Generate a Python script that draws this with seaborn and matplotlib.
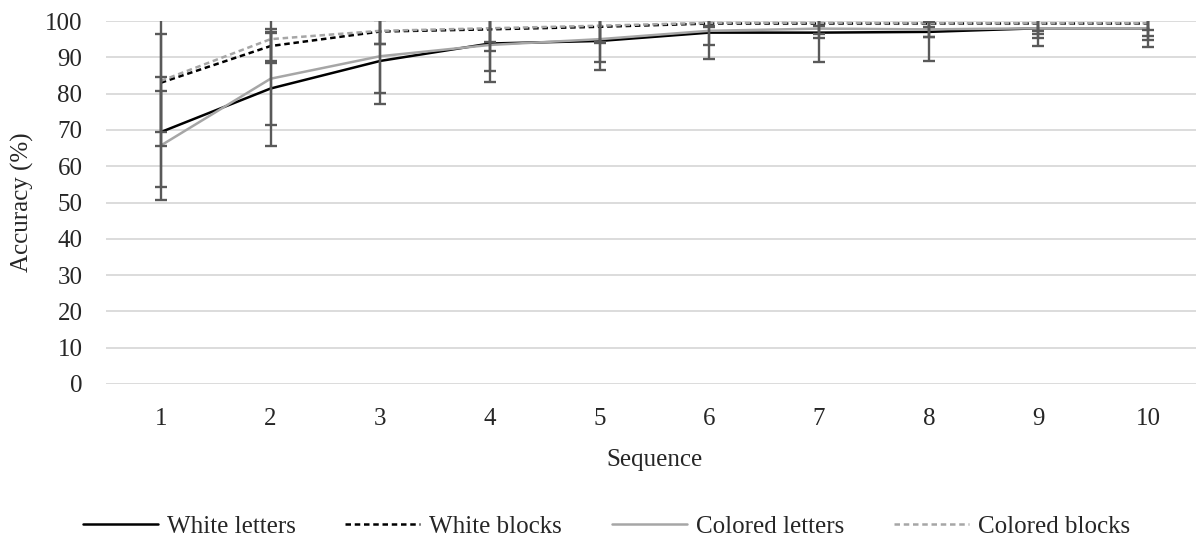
import pandas as pd
import matplotlib.pyplot as plt
import seaborn as sns

sns.set_style("white")
plt.rcParams['font.family'] = ['Liberation Serif', 'DejaVu Serif']

# --------------------------------
# Data (mean accuracy and SD per sequence)
# --------------------------------
sequence = [1, 2, 3, 4, 5, 6, 7, 8, 9, 10]
conditions = ["White letters", "White blocks", "Colored letters", "Colored blocks"]

white_letters = [69.4, 81.4, 89.0, 93.8, 94.5, 96.8, 96.8, 97.0, 98.0, 98.0]
white_letters_sd = [15.1, 15.7, 11.8, 10.6, 7.9, 7.2, 8.1, 8.0, 4.9, 5.3]

white_blocks = [83.0, 93.1, 97.1, 97.7, 98.4, 99.3, 99.3, 99.3, 99.3, 99.3]
white_blocks_sd = [13.5, 4.8, 3.5, 3.4, 4.4, 0.9, 3.0, 3.7, 3.0, 3.4]

colored_letters = [65.7, 84.1, 90.3, 93.4, 95.0, 97.3, 97.9, 97.7, 98.0, 98.0]
colored_letters_sd = [14.9, 12.7, 10.1, 7.3, 6.2, 3.8, 2.7, 2.1, 2.6, 3.2]

colored_blocks = [83.5, 95.0, 97.3, 98.0, 98.7, 99.5, 99.5, 99.4, 99.4, 99.4]
colored_blocks_sd = [17.9, 6.0, 3.7, 6.3, 4.5, 1.0, 1.0, 1.0, 2.2, 1.9]

means = [white_letters, white_blocks, colored_letters, colored_blocks]
sds = [white_letters_sd, white_blocks_sd, colored_letters_sd, colored_blocks_sd]

rows = []
for name, m, s in zip(conditions, means, sds):
    for x, v, e in zip(sequence, m, s):
        rows.append({"Sequence": x, "Accuracy": v, "SD": e, "Condition": name})
df = pd.DataFrame(rows)

palette = {"White letters": "#000000", "White blocks": "#000000",
           "Colored letters": "#a6a6a6", "Colored blocks": "#a6a6a6"}
dashes = {"White letters": "", "White blocks": (2.2, 1.5),
          "Colored letters": "", "Colored blocks": (2.2, 1.5)}

# --------------------------------
# Plot
# --------------------------------
fig = plt.figure(figsize=(11.96, 5.37), dpi=100)
ax = fig.add_axes([106 / 1196, 153 / 537, 1097 / 1196, 363 / 537])

sns.lineplot(data=df, x="Sequence", y="Accuracy", hue="Condition", style="Condition",
             hue_order=conditions, style_order=conditions,
             palette=palette, dashes=dashes, linewidth=1.8, ax=ax)

for name in conditions:
    sub = df[df["Condition"] == name]
    ax.errorbar(sub["Sequence"], sub["Accuracy"], yerr=sub["SD"], fmt="none",
                ecolor="#595959", elinewidth=1.7, capsize=4.5, capthick=1.7, zorder=3)

ax.set_xlim(0.5, 10.5)
ax.set_ylim(0, 100)
ax.set_xticks(sequence)
ax.set_yticks(range(0, 101, 10))
ax.yaxis.grid(True, color="#d9d9d9", linewidth=1.3)
ax.set_axisbelow(True)
for sp in ax.spines.values():
    sp.set_visible(False)
ax.tick_params(axis="both", length=0, labelsize=18)
ax.tick_params(axis="y", pad=17)
ax.tick_params(axis="x", pad=17)
ax.set_xlabel("Sequence", fontsize=18, labelpad=14)
ax.set_ylabel("Accuracy (%)", fontsize=18, labelpad=8)

handles, labels = ax.get_legend_handles_labels()
ax.get_legend().remove()
fig.legend(handles, labels, loc="center", bbox_to_anchor=(0.507, 0.02), ncol=4,
           frameon=False, fontsize=18, handlelength=3.0, handletextpad=0.35,
           columnspacing=2.0)

plt.savefig("out.png", dpi=100)
